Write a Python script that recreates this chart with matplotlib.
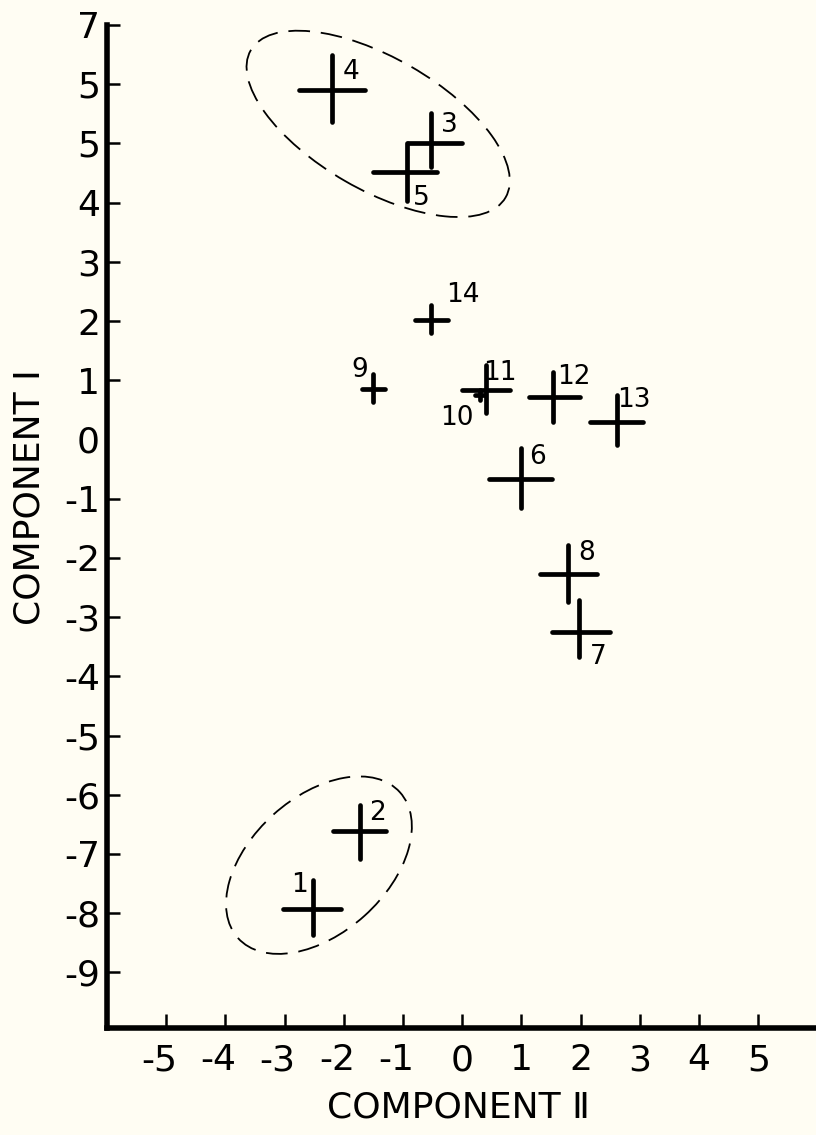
import matplotlib
matplotlib.use("Agg")
import matplotlib.pyplot as plt
import matplotlib.transforms as mtransforms
from matplotlib.patches import Ellipse

# point ids and positions (component II on x, component I on y)
ids = ['1', '2', '3', '4', '5', '6', '7', '8', '9', '10', '11', '12', '13', '14']
comp2 = [-2.52, -1.73, -0.52, -2.20, -0.93, 1.00, 1.98, 1.79, -1.51, 0.30, 0.40, 1.54, 2.61, -0.52]
comp1 = [-7.93, -6.61, 5.00, 5.90, 4.51, -0.67, -3.25, -2.28, 0.85, 0.75, 0.84, 0.72, 0.30, 2.02]

# arm lengths of each cross (left/right on x, down/up on y)
x_lo = [0.51, 0.45, 0.39, 0.55, 0.57, 0.55, 0.47, 0.48, 0.19, 0.08, 0.41, 0.42, 0.45, 0.28]
x_hi = [0.48, 0.45, 0.51, 0.55, 0.50, 0.51, 0.52, 0.49, 0.21, 0.08, 0.41, 0.45, 0.45, 0.28]
y_lo = [0.44, 0.47, 0.39, 0.54, 0.49, 0.49, 0.43, 0.46, 0.21, 0.08, 0.39, 0.42, 0.39, 0.22]
y_hi = [0.49, 0.43, 0.51, 0.59, 0.50, 0.52, 0.54, 0.50, 0.25, 0.08, 0.42, 0.42, 0.45, 0.25]

# dashed groupings: center x, center y, width, height, angle
group_cx = [-1.42, -2.42]
group_cy = [5.33, -7.19]
group_w = [4.97, 3.68]
group_h = [2.23, 2.30]
group_ang = [-30, 42]

x_ticks = [-5, -4, -3, -2, -1, 0, 1, 2, 3, 4, 5]
x_ticklabels = ['-5', '-4', '-3', '-2', '-1', '0', '1', '2', '3', '4', '5']
y_ticks = [7, 6, 5, 4, 3, 2, 1, 0, -1, -2, -3, -4, -5, -6, -7, -8, -9]
y_ticklabels = ['7', '5', '5', '4', '3', '2', '1', '0', '-1', '-2', '-3', '-4',
                '-5', '-6', '-7', '-8', '-9']

# label offsets in pixels relative to each cross
lab_off = [(-14, 24), (18, 18), (18, 18), (19, 18), (14, -26), (16, 22), (19, -25),
           (18, 21), (-13, 19), (-23, -23), (14, 17), (20, 20), (17, 22), (31, 25)]

bg = '#fffdf3'
plt.rcParams['font.family'] = ['DejaVu Sans']

fig = plt.figure(figsize=(8.16, 11.35), dpi=100, facecolor=bg)
ax = fig.add_axes([107/816, 107/1135, 709/816, 1003/1135], facecolor=bg)

eb = ax.errorbar(comp2, comp1, xerr=[x_lo, x_hi], yerr=[y_lo, y_hi], fmt='none',
                 ecolor='black', elinewidth=3.4, capsize=0)
for lc in eb.lines[2]:
    lc.set_capstyle('round')

for i, lab in enumerate(ids):
    ax.annotate(lab, (comp2[i], comp1[i]), xytext=lab_off[i], textcoords='offset pixels',
                ha='center', va='center', fontsize=19)

for i in range(len(group_cx)):
    e = Ellipse((group_cx[i], group_cy[i]), group_w[i], group_h[i], angle=group_ang[i],
                fill=False, edgecolor='black', lw=1.3, linestyle=(0, (12, 6)))
    ax.add_patch(e)

ax.set_xlim(-6.0, 5.975)
ax.set_ylim(-9.94, 7)

for s in ['top', 'right']:
    ax.spines[s].set_visible(False)
for s in ['left', 'bottom']:
    ax.spines[s].set_linewidth(4)

ax.set_xticks(x_ticks)
ax.set_xticklabels(x_ticklabels, fontsize=26)
ax.set_yticks(y_ticks)
ax.set_yticklabels(y_ticklabels, fontsize=26)
ax.tick_params(axis='x', direction='in', length=10, width=1.8, pad=11)
ax.tick_params(axis='y', direction='in', length=9, width=1.8, pad=5)

# no tick mark at y = 0 in the original
ax.yaxis.get_major_ticks()[y_ticks.index(0)].tick1line.set_visible(False)

# keep the digit centred under the tick, minus hangs to the left
shift = mtransforms.ScaledTranslation(-0.07, 0, fig.dpi_scale_trans)
for t in ax.get_xticklabels():
    if t.get_text().startswith('-'):
        t.set_transform(t.get_transform() + shift)

fig.text(458/816, 1 - 1108/1135, 'COMPONENT Ⅱ', ha='center', va='center', fontsize=26)
fig.text(30/816, 1 - 497/1135, 'COMPONENT Ⅰ', ha='center', va='center', fontsize=26,
         rotation=90)

fig.savefig('out.png', dpi=100, facecolor=bg)
